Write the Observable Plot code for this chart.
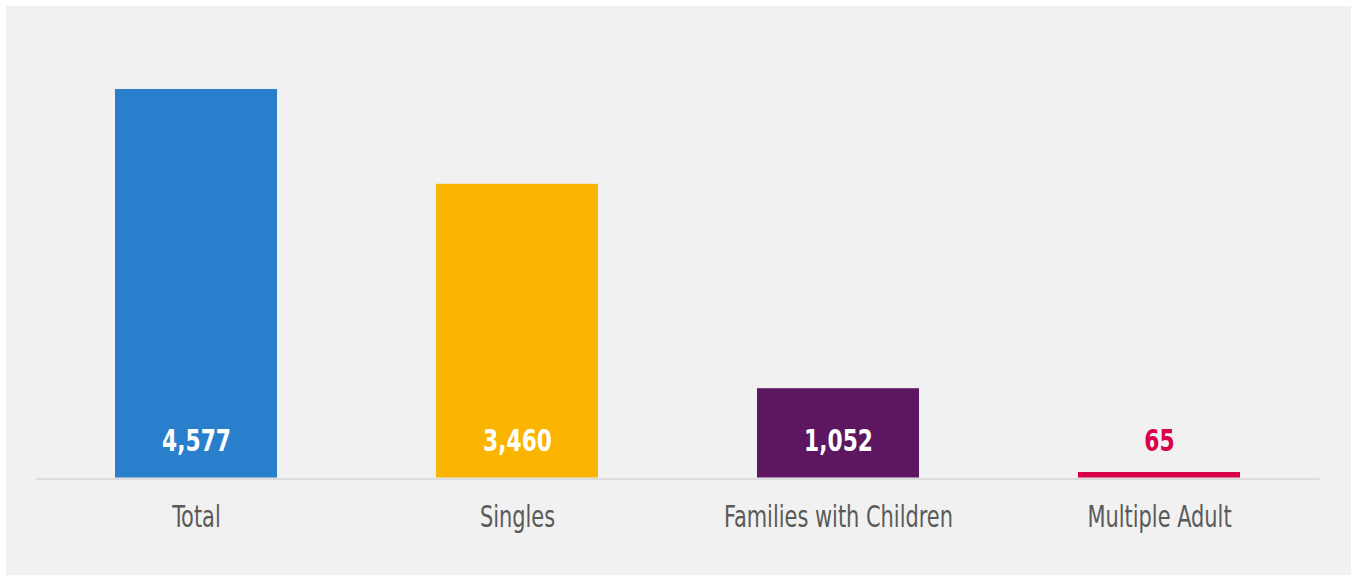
<!DOCTYPE html>
<html>
<head>
<meta charset="utf-8">
<script src="https://cdn.jsdelivr.net/npm/d3@7"></script>
<script src="https://cdn.jsdelivr.net/npm/@observablehq/plot@0.6"></script>
<style>
  html, body { margin: 0; padding: 0; background: #ffffff; }
  #chart { position: absolute; left: 6px; top: 6px; width: 1345px; height: 569px; background: #f1f1f1; }
  #chart svg { display: block; background: #f1f1f1; }
</style>
</head>
<body>
<div id="chart"></div>
<script>
const categories = ["Total", "Singles", "Families with Children", "Multiple Adult"];
const values = [4577, 3460, 1052, 65];

const data = categories.map((c, i) => ({ category: c, value: values[i] }));

const barColors = ["#2a7fcd", "#f9b500", "#5c1760", "#d9004a"];
const fmt = d3.format(",");
const condensed = "'Liberation Sans Narrow', 'DejaVu Sans Condensed', 'Arial Narrow', sans-serif";

const chart = Plot.plot({
  width: 1345,
  height: 569,
  marginLeft: 29.5,
  marginRight: 31.5,
  marginTop: 83,
  marginBottom: 97.5,
  style: { background: "#f1f1f1", fontFamily: condensed },
  x: { domain: categories, paddingInner: 0.495, paddingOuter: 0.2475, label: null },
  y: { domain: [0, 4577], axis: null },
  color: { domain: categories, range: barColors },
  marks: [
    Plot.ruleY([0], { stroke: "#dcdcdc", strokeWidth: 2, dy: 1 }),
    Plot.barY(data, { x: "category", y: "value", fill: "category" }),
    Plot.text(data, {
      x: "category",
      y: 0,
      text: d => fmt(d.value),
      dy: -37,
      lineAnchor: "middle",
      fontSize: 31,
      fontWeight: "bold",
      className: "vlabel",
      fill: d => d.value < 300 ? barColors[categories.indexOf(d.category)] : "#ffffff"
    }),
    Plot.axisX({
      tickSize: 0,
      tickPadding: 28,
      fontSize: 30,
      fill: "#5a5a5a",
      className: "xlabel",
      label: null
    })
  ]
});

document.getElementById("chart").appendChild(chart);

// condense glyphs horizontally to mimic the narrow typeface of the original
function condense(selector, factor) {
  chart.querySelectorAll(selector + " text").forEach(t => {
    const w = t.getComputedTextLength();
    t.setAttribute("textLength", w * factor);
    t.setAttribute("lengthAdjust", "spacingAndGlyphs");
  });
}
condense(".vlabel", 0.78);
condense(".xlabel", 0.775);
</script>
</body>
</html>
